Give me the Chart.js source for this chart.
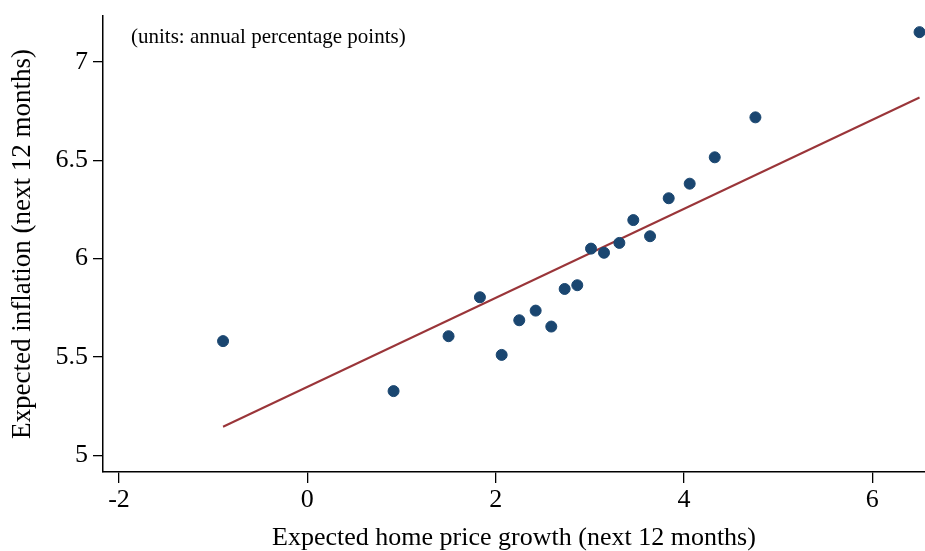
<!DOCTYPE html>
<html>
<head>
<meta charset="utf-8">
<script src="https://cdn.jsdelivr.net/npm/chart.js@4"></script>
<style>
  html, body { margin: 0; padding: 0; background: #fff; }
  #wrap { width: 925px; height: 551px; }
</style>
</head>
<body>
<div id="wrap"><canvas id="myChart"></canvas></div>
<script>
"use strict";
// binned scatter: expected home price growth vs expected inflation
var homeGrowth = [-0.895, 0.916, 1.50, 1.833, 2.064, 2.251, 2.425, 2.591, 2.733, 2.867,
    3.013, 3.151, 3.314, 3.462, 3.640, 3.838, 4.061, 4.327, 4.759, 6.502];
var inflation = [5.581, 5.327, 5.606, 5.804, 5.511, 5.687, 5.736, 5.655, 5.846, 5.865,
    6.051, 6.030, 6.080, 6.196, 6.114, 6.307, 6.381, 6.515, 6.718, 7.151];
// fitted line ends
var fitX = [-0.895, 6.502];
var fitY = [5.146, 6.819];
var xTicks = [-2, 0, 2, 4, 6];
var yTicks = [5, 5.5, 6, 6.5, 7];

var pts = [];
for (var i = 0; i <= homeGrowth.length - 1; i++) {
    pts.push({ x: homeGrowth[i], y: inflation[i] });
}
var fit = [];
for (var j = 0; j <= fitX.length - 1; j++) {
    fit.push({ x: fitX[j], y: fitY[j] });
}

var serif = "'Liberation Serif', 'Times New Roman', serif";

var unitsNote = {
    id: 'unitsNote',
    afterDraw: function (chart) {
        var ctx = chart.ctx;
        var a = chart.chartArea;
        ctx.save();
        ctx.font = "21px " + serif;
        ctx.fillStyle = "#000";
        ctx.textBaseline = "middle";
        ctx.fillText("(units: annual percentage points)", a.left + 28, a.top + 21);
        ctx.restore();
    }
};

var ctx = document.getElementById('myChart').getContext('2d');
var chart = new Chart(ctx, {
    type: 'scatter',
    data: {
        datasets: [{
            data: pts,
            backgroundColor: '#1a4670',
            borderColor: '#1a4670',
            pointRadius: 5.5,
            pointHoverRadius: 5.5,
            order: 1
        }, {
            type: 'line',
            data: fit,
            borderColor: '#9a3539',
            borderWidth: 2,
            pointRadius: 0,
            fill: false,
            order: 2
        }]
    },
    plugins: [unitsNote],
    options: {
        responsive: true,
        maintainAspectRatio: false,
        animation: false,
        layout: { autoPadding: false, padding: { top: 16, right: 0, left: 0, bottom: 0 } },
        plugins: {
            legend: { display: false },
            tooltip: { enabled: false }
        },
        scales: {
            x: {
                type: 'linear',
                min: -2.17,
                max: 6.56,
                afterBuildTicks: function (s) { s.ticks = xTicks.map(function (v) { return { value: v }; }); },
                afterFit: function (s) { s.height = 79; s.paddingRight = 0; },
                border: { display: true, color: '#000', width: 1.5 },
                grid: { display: true, drawOnChartArea: false, drawTicks: true, tickLength: 11, tickColor: '#000', lineWidth: 1.3 },
                ticks: { color: '#000', padding: 2, font: { family: serif, size: 26 },
                    callback: function (v) { return String(v); } },
                title: {
                    display: true,
                    text: 'Expected home price growth (next 12 months)',
                    color: '#000',
                    font: { family: serif, size: 26, lineHeight: 1 },
                    padding: { top: 8, bottom: 0 }
                }
            },
            y: {
                type: 'linear',
                min: 4.916,
                max: 7.233,
                afterBuildTicks: function (s) { s.ticks = yTicks.map(function (v) { return { value: v }; }); },
                afterFit: function (s) { s.width = 103; s.paddingTop = 0; s.paddingBottom = 0; },
                border: { display: true, color: '#000', width: 1.5 },
                grid: { display: true, drawOnChartArea: false, drawTicks: true, tickLength: 10, tickColor: '#000', lineWidth: 1.3 },
                ticks: { color: '#000', padding: 5, font: { family: serif, size: 26 },
                    callback: function (v) { return String(v); } },
                title: {
                    display: true,
                    text: 'Expected inflation (next 12 months)',
                    color: '#000',
                    font: { family: serif, size: 27 },
                    padding: { top: 7, bottom: 4 }
                }
            }
        }
    }
});
</script>
</body>
</html>
